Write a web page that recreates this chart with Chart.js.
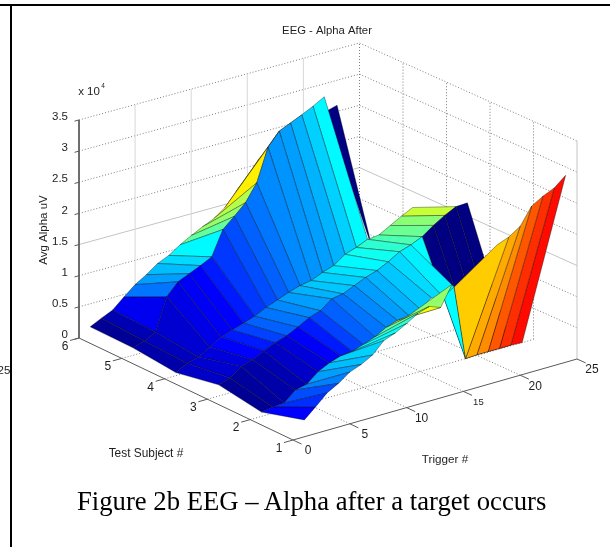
<!DOCTYPE html>
<html>
<head>
<meta charset="utf-8">
<title>EEG - Alpha After</title>
<script src="https://cdn.jsdelivr.net/npm/chart.js@4"></script>
<style>
    html, body { margin: 0; padding: 0; background: #fff; width: 610px; height: 547px; overflow: hidden; }
    #plot { position: absolute; left: 0; top: 0; filter: blur(0.45px); }
    #frame { position: absolute; left: 10px; top: 4px; width: 600px; height: 543px; border-left: 2px solid #000; border-top: 2px solid #000; box-sizing: border-box; }
    #topline { position: absolute; left: 0; top: 4px; width: 12px; height: 2px; background: #000; }
    #caption { position: absolute; left: 77px; top: 486px; font: 26.7px "Liberation Serif", serif; color: #000; white-space: nowrap; }
</style>
</head>
<body>
<canvas id="plot" width="610" height="547"></canvas>
<div id="frame"></div>
<div id="topline"></div>
<div id="caption">Figure 2b EEG – Alpha after a target occurs</div>
<script>
"use strict";

const triggerTicks = [0, 5, 10, 15, 20, 25];
const subjectTicks = [1, 2, 3, 4, 5, 6];
const alphaTicks = [0, 0.5, 1, 1.5, 2, 2.5, 3, 3.5];

// Avg Alpha (x 10^4) per subject, triggers 1..24, null = no data
const alphaS6 = [.13, .22, .30, .46, .61, .72, .85, .93, 1.05, 1.15, 1.24, 1.32, 1.45, 1.66, 1.84, 2.08, null, null, null, null, null, 2.55, 2.6, null];
const alphaS5 = [.12, .18, .27, .79, .98, 1.06, 1.14, 1.23, 1.62, 1.78, 1.95, 2.22, 2.74, 2.95, 3.03, 3.11, 3.2, 3.3, null, null, null, .81, .08, null];
const alphaS4 = [.05, .15, .2, .31, .42, .48, .54, .6, .69, .76, .83, .89, .92, 1.0, 1.06, 1.19, 1.25, 1.33, 1.35, 1.45, 1.55, 1.64, null, null];
const alphaS3 = [.18, .24, .37, .43, .52, .6, .66, .75, .85, .91, 1.05, 1.08, 1.16, 1.24, 1.3, 1.39, 1.5, 1.56, 1.64, 1.77, 1.88, 1.97, 1.98, null];
const alphaS2 = [.07, .1, .11, .27, .31, .46, .55, .61, .63, .69, .76, .86, .92, .95, 1.0, 1.13, 1.1, 1.2, 0, .01, .01, .01, .01, 0];
const alphaS1 = [.27, .43, .6, .7, .83, .9, 1.0, 1.18, 1.25, 1.35, 1.46, 1.52, 1.45, 1.77, null, null, null, 2.2, 2.27, 2.39, 2.66, 2.77, 2.85, 3.0];

// colour value of each facet (0..1 on the jet map), one band between two neighbouring subjects
const colorS65 = [.02, .05, .11, .24, .28, .31, .34, .37, .47, .52, .55, .64, .65, .65, .65, null, null, null, null, null, null, 0, null];
const colorS54 = [.04, .06, .08, .1, .115, .125, .15, .18, .2, .22, .24, .26, .27, .28, .3, .33, .37, null, null, null, null, null, null];
const colorS43 = [.07, .08, .09, .125, .15, .19, .22, .24, .26, .28, .30, .32, .33, .35, .37, .39, .42, .45, .48, .51, .57, null, null];
const colorS32 = [.02, .03, .04, .05, .07, .09, .12, .15, .19, .22, .24, .26, .28, .3, .32, .34, .36, .375, 0, 0, 0, 0, null];
const colorS21 = [.125, .17, .2, .25, .28, .31, .33, .36, .38, .42, .47, .62, .52, null, null, null, null, .675, .708, .738, .79, .83, .865];

const rows = [alphaS6, alphaS5, alphaS4, alphaS3, alphaS2, alphaS1];
const bands = [colorS65, colorS54, colorS43, colorS32, colorS21];

// floor corners of the axes box on the page, from the view angle of the plot
const floorA = [79, 338], floorB = [293, 440], floorC = [577, 359], floorD = [359.5, 261];
const zUnit = 62.3;

function project(trigger, subject, alpha) {
    const u = trigger / 25, v = (6 - subject) / 5;
    const px = (1 - u) * (1 - v) * floorA[0] + (1 - u) * v * floorB[0] + u * v * floorC[0] + u * (1 - v) * floorD[0];
    const py = (1 - u) * (1 - v) * floorA[1] + (1 - u) * v * floorB[1] + u * v * floorC[1] + u * (1 - v) * floorD[1];
    return { x: px, y: py - alpha * zUnit };
}

function jet(c) {
    const ramp = t => Math.round(255 * Math.max(0, Math.min(1, t)));
    const r = ramp(1.5 - Math.abs(4 * c - 3));
    const g = ramp(1.5 - Math.abs(4 * c - 2));
    const b = ramp(1.5 - Math.abs(4 * c - 1));
    return `rgb(${r},${g},${b})`;
}

const datasets = [];

function addLine(points, color, width, dash) {
    datasets.push({
        data: points,
        showLine: true,
        fill: false,
        borderColor: color,
        borderWidth: width,
        borderDash: dash || [],
        pointRadius: 0
    });
}

const dotted = [1, 2];
const gridColor = '#7c7c7c';
const axisColor = '#5a5a5a';

// walls and floor
alphaTicks.forEach(a => {
    if (a === 0) return;
    const solid = a === 1.5;
    addLine([project(0, 6, a), project(25, 6, a), project(25, 1, a)], solid ? '#c4c4c4' : gridColor, 1, solid ? [] : dotted);
});
triggerTicks.forEach(t => {
    if (t > 0) addLine([project(t, 6, 0), project(t, 6, 3.5)], t === 25 ? gridColor : '#d8d8d8', 1, t === 25 ? dotted : []);
    if (t > 0 && t < 25) addLine([project(t, 1, 0), project(t, 6, 0)], gridColor, 1, dotted);
});
subjectTicks.forEach(s => {
    if (s < 6) addLine([project(25, s, 0), project(25, s, 3.5)], s === 1 ? '#c4c4c4' : gridColor, 1, s === 1 ? [] : dotted);
    if (s > 1 && s < 6) addLine([project(0, s, 0), project(25, s, 0)], gridColor, 1, dotted);
});

// axes and their ticks
addLine([project(0, 6, 3.5), project(0, 6, 0), project(0, 1, 0), project(25, 1, 0)], axisColor, 1);
alphaTicks.forEach(a => addLine([project(0, 6, a), project(-0.4, 6, a)], axisColor, 1));
triggerTicks.forEach(t => addLine([project(t, 1, 0), project(t, 0.8, 0)], axisColor, 1));
subjectTicks.forEach(s => addLine([project(0, s, 0), project(-0.8, s, 0)], axisColor, 1));

// surface facets, far ones first
bands.forEach((band, b) => {
    const back = rows[b], front = rows[b + 1];
    const subject = 6 - b;
    for (let i = band.length - 1; i >= 0; i--) {
        if (band[i] === null) continue;
        const t = i + 1;
        datasets.push({
            data: [
                project(t, subject, back[i]),
                project(t + 1, subject, back[i + 1]),
                project(t + 1, subject - 1, front[i + 1]),
                project(t, subject - 1, front[i]),
                project(t, subject, back[i])
            ],
            showLine: true,
            fill: 'shape',
            backgroundColor: jet(band[i]),
            borderColor: 'rgba(0,0,0,0.5)',
            borderWidth: 0.7,
            pointRadius: 0
        });
    }
});

// later datasets have to paint on top
datasets.forEach((d, i) => { d.order = datasets.length - i; });

const fontFace = '"Liberation Sans", Arial, sans-serif';

const axisText = {
    id: 'axisText',
    afterDatasetsDraw(chart) {
        const { ctx, scales } = chart;
        const put = (text, pos, size, align, angle) => {
            ctx.save();
            ctx.translate(scales.x.getPixelForValue(pos.x), scales.y.getPixelForValue(pos.y));
            if (angle) ctx.rotate(angle);
            ctx.font = `${size}px ${fontFace}`;
            ctx.fillStyle = '#1e1e1e';
            ctx.textAlign = align || 'center';
            ctx.textBaseline = 'middle';
            ctx.fillText(text, 0, 0);
            ctx.restore();
        };
        alphaTicks.forEach(a => {
            const p = project(0, 6, a);
            put(String(a), { x: p.x - 11, y: p.y - 3 }, 11.5, 'right');
        });
        triggerTicks.forEach(t => {
            const p = project(t, 1, 0);
            put(String(t), { x: p.x + 15, y: p.y + 11 }, t === 15 ? 9.5 : 12);
        });
        subjectTicks.forEach(s => {
            const p = project(0, s, 0);
            put(String(s), { x: p.x - 14, y: p.y + 8.5 }, 12);
        });
        put('EEG - Alpha After', { x: 327, y: 31 }, 11.3);
        put('x 10', { x: 89, y: 92 }, 11.5);
        put('4', { x: 103, y: 86 }, 6.5);
        put('Avg Alpha uV', { x: 44, y: 230 }, 11.5, 'center', -Math.PI / 2);
        put('Test Subject #', { x: 146, y: 454 }, 11.9);
        put('Trigger #', { x: 445, y: 460 }, 11.7);
        put('25', { x: 4, y: 371 }, 11.5);
    }
};

new Chart(document.getElementById('plot').getContext('2d'), {
    type: 'scatter',
    data: { datasets: datasets },
    options: {
        responsive: false,
        animation: false,
        devicePixelRatio: 1,
        layout: { padding: 0 },
        plugins: {
            legend: { display: false },
            title: { display: false },
            tooltip: { enabled: false }
        },
        scales: {
            x: { type: 'linear', min: 0, max: 610, display: false },
            y: { type: 'linear', min: 0, max: 547, reverse: true, display: false }
        }
    },
    plugins: [axisText]
});
</script>
</body>
</html>
